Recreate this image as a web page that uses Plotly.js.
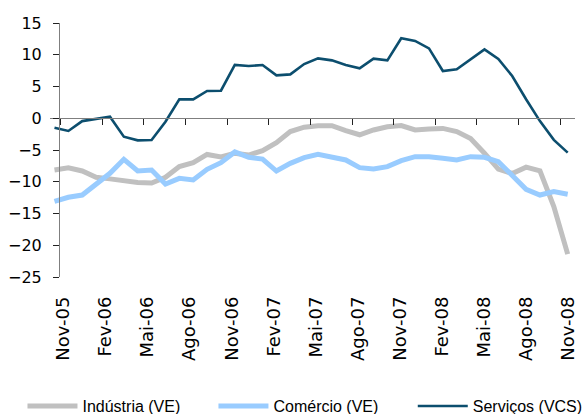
<!DOCTYPE html>
<html>
<head>
<meta charset="utf-8">
<script src="https://cdn.plot.ly/plotly-3.0.1.min.js"></script>
<style>html,body{margin:0;padding:0;background:#fff;}#chart{width:584px;height:414px;}</style>
</head>
<body>
<div id="chart"></div>
<script>
// Months (Nov-05 .. Dez-08)
const months = ["Nov-05","Dez-05","Jan-06","Fev-06","Mar-06","Abr-06","Mai-06","Jun-06","Jul-06","Ago-06","Set-06","Out-06",
  "Nov-06","Dez-06","Jan-07","Fev-07","Mar-07","Abr-07","Mai-07","Jun-07","Jul-07","Ago-07","Set-07","Out-07",
  "Nov-07","Dez-07","Jan-08","Fev-08","Mar-08","Abr-08","Mai-08","Jun-08","Jul-08","Ago-08","Set-08","Out-08",
  "Nov-08","Dez-08"];
const tickLabels = ["Nov-05","Fev-06","Mai-06","Ago-06","Nov-06","Fev-07","Mai-07","Ago-07","Nov-07","Fev-08","Mai-08","Ago-08","Nov-08"];

const industria = [-8.15,-7.8,-8.3,-9.3,-9.55,-9.85,-10.1,-10.2,-9.3,-7.6,-7.0,-5.7,-6.1,-5.5,-5.8,-5.1,-3.85,-2.1,-1.4,-1.2,
  -1.17,-1.96,-2.6,-1.85,-1.35,-1.15,-1.85,-1.7,-1.6,-2.1,-3.2,-5.5,-8.0,-8.7,-7.7,-8.3,-13.9,-21.4];
const comercio = [-13.1,-12.45,-12.1,-10.35,-8.67,-6.47,-8.3,-8.15,-10.35,-9.46,-9.72,-8.04,-7.0,-5.3,-6.15,-6.42,-8.31,-7.1,-6.21,-5.68,
  -6.05,-6.57,-7.78,-7.99,-7.62,-6.68,-6.05,-6.05,-6.31,-6.57,-6.05,-6.15,-6.84,-8.94,-11.19,-12.09,-11.56,-11.98];
const servicos = [-1.5,-2.0,-0.45,-0.07,0.25,-2.9,-3.48,-3.43,-0.54,2.98,2.98,4.29,4.34,8.39,8.23,8.39,6.76,6.91,8.54,9.43,
  9.12,8.39,7.86,9.38,9.12,12.59,12.17,11.0,7.44,7.7,9.28,10.85,9.33,6.65,3.0,-0.45,-3.4,-5.42];

const idx = months.map((m, i) => i);
const labelIdx = tickLabels.map(t => months.indexOf(t));

const traces = [
  {x: idx, y: industria, name: "Indústria (VE)", type: "scatter", mode: "lines", legend: "legend",
   line: {color: "#c0c0c0", width: 5}},
  {x: idx, y: comercio, name: "Comércio (VE)", type: "scatter", mode: "lines", legend: "legend2",
   line: {color: "#99ccff", width: 5}},
  {x: idx, y: servicos, name: "Serviços (VCS)", type: "scatter", mode: "lines", legend: "legend3",
   line: {color: "#0c4e6e", width: 2.6}},
  // carrier for the month-label axis (no visible marks)
  {x: labelIdx, y: labelIdx.map(() => null), xaxis: "x2", yaxis: "y", type: "scatter", mode: "lines",
   showlegend: false, hoverinfo: "skip"}
];

const tickFont = {family: "DejaVu Sans, sans-serif", size: 16, color: "#000"};
const legFont = {family: "Liberation Sans, Arial, sans-serif", size: 16, color: "#000"};
function leg(x) {
  return {orientation: "h", xref: "container", yref: "container", x: x, y: 0.019,
          xanchor: "left", yanchor: "middle", font: legFont, bgcolor: "rgba(0,0,0,0)", borderwidth: 0,
          itemwidth: 50};
}

const layout = {
  width: 584, height: 414,
  margin: {l: 50, r: 9, t: 23, b: 137, pad: 0},
  paper_bgcolor: "#fff", plot_bgcolor: "rgba(0,0,0,0)",
  showlegend: true,
  xaxis: {
    type: "linear", range: [-0.324, 37.527],
    anchor: "free", position: 0.625,
    showline: true, linecolor: "#7f7f7f", linewidth: 1,
    ticks: "outside", ticklen: 6, tickcolor: "#222", tickwidth: 1,
    tickmode: "linear", tick0: 0.45, dtick: 3,
    showticklabels: false, showgrid: false, zeroline: false
  },
  xaxis2: {
    type: "linear", range: [-0.948, 36.47],
    overlaying: "x", anchor: "y", side: "bottom",
    showline: false, ticks: "", showgrid: false, zeroline: false,
    tickmode: "array", tickvals: labelIdx, ticktext: tickLabels,
    tickangle: -90, tickfont: {family: "DejaVu Sans, sans-serif", size: 18, color: "#000"},
    ticklabelstandoff: 15
  },
  yaxis: {
    range: [-25, 15], anchor: "free", position: 0.0171,
    showline: true, linecolor: "#7f7f7f", linewidth: 1,
    ticks: "outside", ticklen: 6, tickcolor: "#222", tickwidth: 1,
    tickmode: "linear", tick0: -25, dtick: 5,
    tickfont: tickFont, showgrid: false, zeroline: false,
    ticklabelstandoff: 8
  },
  legend: leg(0.0385),
  legend2: leg(0.3655),
  legend3: leg(0.7068)
};

Plotly.newPlot("chart", traces, layout, {displayModeBar: false, staticPlot: true});
</script>
</body>
</html>
